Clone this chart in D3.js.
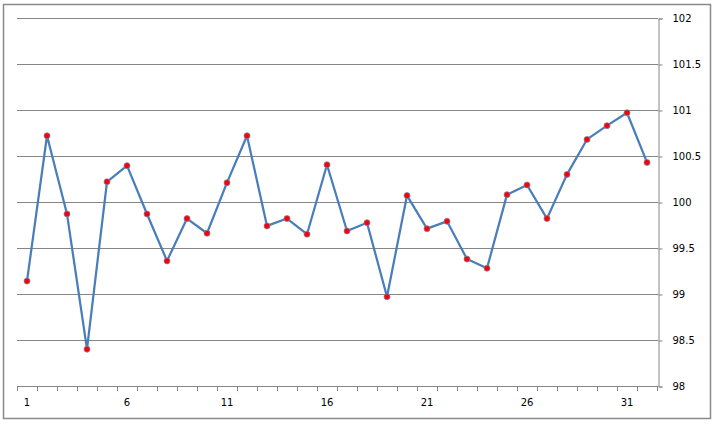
<!DOCTYPE html>
<html lang="en">
<head>
    <meta charset="UTF-8" />
    <title>Index chart</title>
    <script src="https://d3js.org/d3.v7.min.js"></script>
    <style>
        body {
            margin: 0;
            background: #fff;
        }
        svg {
            display: block;
        }
        .axis text {
            font-family: "DejaVu Sans", sans-serif;
            font-size: 10px;
            fill: #000;
        }
    </style>
</head>
<body>
    <svg id="chart" width="716" height="425"></svg>

    <script>
        // categories 1..32
        const days = [1, 2, 3, 4, 5, 6, 7, 8, 9, 10, 11, 12, 13, 14, 15, 16,
                      17, 18, 19, 20, 21, 22, 23, 24, 25, 26, 27, 28, 29, 30, 31, 32];
        const values = [99.14, 100.72, 99.87, 98.40, 100.22, 100.395, 99.87, 99.36,
                        99.82, 99.66, 100.21, 100.72, 99.74, 99.82, 99.65, 100.405,
                        99.685, 99.775, 98.97, 100.07, 99.71, 99.79, 99.38, 99.28,
                        100.08, 100.185, 99.82, 100.30, 100.68, 100.83, 100.97, 100.43];
        const xLabels = [1, 6, 11, 16, 21, 26, 31];
        const yTicks = [98, 98.5, 99, 99.5, 100, 100.5, 101, 101.5, 102];

        const data = days.map((d, i) => ({ day: d, value: values[i] }));

        const svg = d3.select("#chart");
        const gridColor = "#868686";

        // outer chart border
        svg.append("rect")
            .attr("x", 3.5)
            .attr("y", 4.5)
            .attr("width", 707)
            .attr("height", 414)
            .attr("fill", "#fff")
            .attr("stroke", "#8a8a8a")
            .attr("stroke-width", 1.5);

        const plotLeft = 17, plotRight = 657, plotTop = 18, plotBottom = 386;

        const x = d3.scaleBand()
            .domain(days)
            .range([plotLeft, plotRight]);

        const y = d3.scaleLinear()
            .domain([98, 102])
            .range([plotBottom, plotTop]);

        const cx = d => x(d) + x.bandwidth() / 2;

        // horizontal gridlines
        svg.append("g")
            .selectAll("line")
            .data(yTicks)
            .enter()
            .append("line")
            .attr("x1", plotLeft)
            .attr("x2", plotRight + 1)
            .attr("y1", d => Math.round(y(d)) + 0.5)
            .attr("y2", d => Math.round(y(d)) + 0.5)
            .attr("stroke", gridColor)
            .attr("stroke-width", 1);

        // right value axis
        const yAxis = svg.append("g")
            .attr("class", "axis")
            .attr("transform", `translate(${plotRight + 1.5},0.5)`)
            .call(d3.axisRight(y).tickValues(yTicks).tickSize(4).tickPadding(10)
                .tickFormat(d3.format("")));
        yAxis.select(".domain").attr("stroke", gridColor);
        yAxis.selectAll(".tick line").attr("stroke", gridColor);

        // bottom category axis: line and ticks at category boundaries
        const bounds = days.map(d => x(d)).concat([plotRight]);
        svg.append("line")
            .attr("x1", plotLeft)
            .attr("x2", plotRight + 1)
            .attr("y1", plotBottom + 0.5)
            .attr("y2", plotBottom + 0.5)
            .attr("stroke", gridColor);
        svg.append("g")
            .selectAll("line")
            .data(bounds)
            .enter()
            .append("line")
            .attr("x1", d => Math.round(d) + 0.5)
            .attr("x2", d => Math.round(d) + 0.5)
            .attr("y1", plotBottom)
            .attr("y2", plotBottom + 5)
            .attr("stroke", gridColor);

        const xAxis = svg.append("g")
            .attr("class", "axis")
            .attr("transform", `translate(0,${plotBottom})`)
            .call(d3.axisBottom(x).tickValues(xLabels).tickSize(0).tickPadding(13));
        xAxis.select(".domain").remove();

        // series line
        const line = d3.line()
            .x(d => cx(d.day))
            .y(d => y(d.value));

        svg.append("path")
            .datum(data)
            .attr("d", line)
            .attr("fill", "none")
            .attr("stroke", "#4a7ebb")
            .attr("stroke-width", 2.25)
            .attr("stroke-linejoin", "round");

        // markers
        svg.append("g")
            .selectAll("circle")
            .data(data)
            .enter()
            .append("circle")
            .attr("cx", d => cx(d.day))
            .attr("cy", d => y(d.value))
            .attr("r", 3)
            .attr("fill", "#ff0000")
            .attr("stroke", "#6f87b8")
            .attr("stroke-width", 0.75);
    </script>
</body>
</html>
